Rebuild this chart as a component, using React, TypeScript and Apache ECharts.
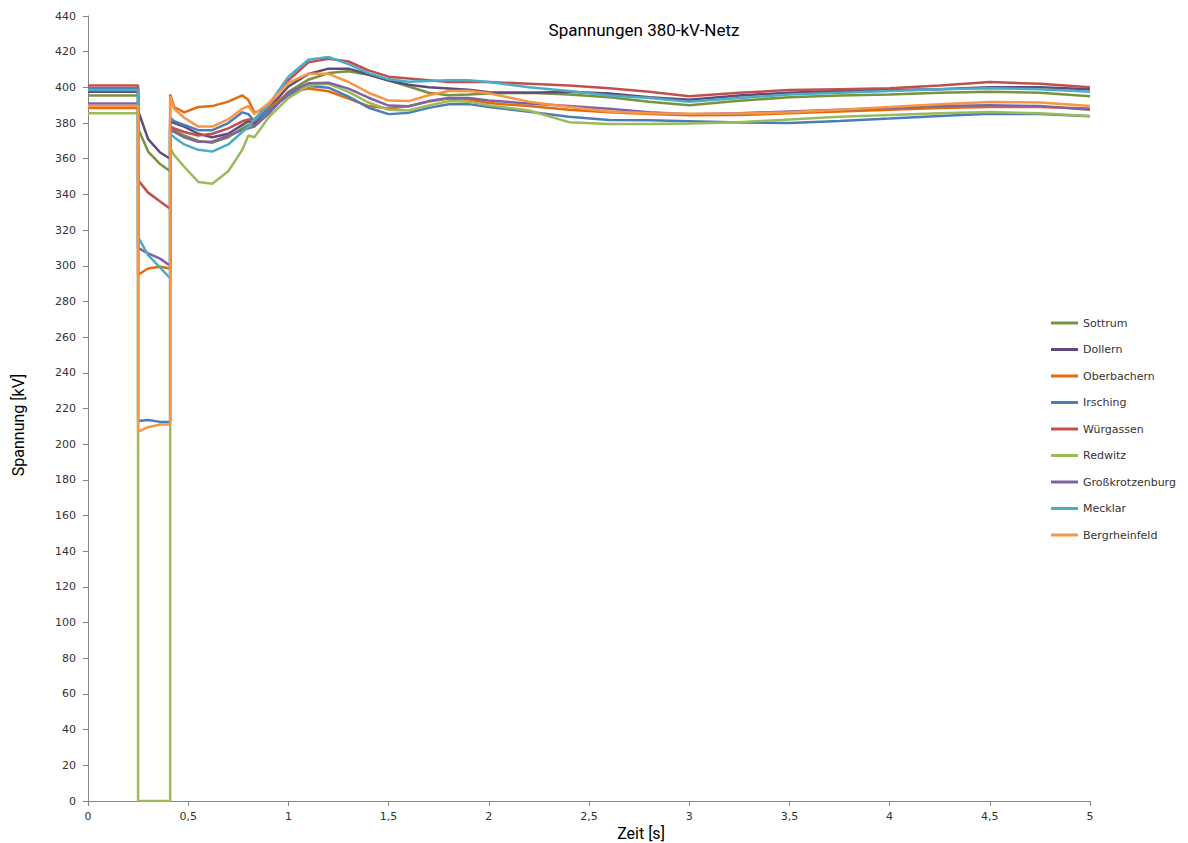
import React, { useEffect, useRef } from "react";
import * as echarts from "echarts";

const times = [0, 0.25, 0.25, 0.3, 0.36, 0.41, 0.41, 0.43, 0.48, 0.55, 0.62, 0.7, 0.77, 0.8, 0.83, 0.9, 1.0, 1.1, 1.2, 1.3, 1.4, 1.5, 1.6, 1.7, 1.8, 1.9, 2.0, 2.2, 2.4, 2.6, 2.8, 3.0, 3.25, 3.5, 3.75, 4.0, 4.25, 4.5, 4.75, 5.0];

const sottrum = [395.5, 395.5, 377, 364, 357, 353, 377, 376, 373, 370, 369, 372, 377, 379, 379, 386, 397.5, 404.3, 408, 409, 407, 404, 400.5, 397, 395.6, 396, 396.6, 397, 396, 394.5, 392, 390, 392.5, 394.5, 395.5, 396, 397, 397.5, 397, 395];
const dollern = [397.5, 397.5, 387, 371, 363.5, 360, 381, 380, 378, 374, 372, 374, 379, 381, 380, 388, 400.5, 407.5, 410.5, 410.5, 407.2, 403.8, 401.5, 400, 399.4, 398.6, 397.2, 397, 397.5, 396.5, 394.5, 393, 395.5, 397, 398, 398.5, 399, 400, 400, 399];
const oberbachern = [388.5, 388.5, 295, 298.5, 299.5, 298.5, 396, 389, 386, 389, 389.5, 392, 395.5, 393, 386, 388, 397, 399.4, 397.8, 393.7, 389.5, 388.2, 389.4, 392, 393.8, 393.2, 391.2, 389.5, 387.5, 386, 385, 384.3, 384.5, 385.5, 386.5, 387.5, 388.5, 389, 389, 388.2];
const irsching = [399.5, 399.5, 213, 213.5, 212.5, 212.5, 383, 381, 379, 376, 376, 380, 386, 385, 381, 387, 395.5, 400.7, 399.8, 394.8, 388.6, 385, 385.7, 388.5, 390.5, 390.6, 389, 386.3, 383.5, 381.7, 381.5, 381, 380.3, 380, 381.2, 382.5, 384, 385.2, 385, 383.8];
const wuergassen = [401, 401, 348, 341, 336, 332, 378, 377, 375, 373, 374, 377, 381, 382, 382, 390, 404, 414, 416, 414.5, 409.5, 406, 405, 404, 403, 403, 403, 402, 401, 399.5, 397.5, 395, 397, 398.5, 399, 399.5, 401, 403, 402, 400];
const redwitz = [385.5, 385.5, 0, 0, 0, 0, 366, 362, 355.5, 347, 346, 353, 365, 373, 372, 383, 394, 401, 402, 397.5, 391.5, 387.4, 387, 389.8, 392.3, 392, 389.9, 387, 380.5, 379.5, 379.5, 379.7, 380.5, 382, 383.5, 384.5, 385.5, 386.2, 385.5, 384];
const grosskrotzenburg = [391, 391, 310, 307, 304, 300, 376, 375, 372, 369.5, 369.5, 373, 376, 377, 378, 385, 397, 402.3, 402.6, 399.3, 394.2, 389.8, 389.4, 392.3, 394.1, 394.1, 392.6, 391, 389.5, 388, 386, 385, 385.5, 386.5, 387.5, 388.5, 389.5, 390, 389.5, 387.5];
const mecklar = [398.5, 398.5, 316, 306, 299, 293, 374, 372, 368, 365, 364, 368, 375, 378, 382, 390, 406, 415.5, 417, 413, 408, 404.5, 403.2, 403.5, 404, 404, 403, 400, 398, 395.5, 394, 392, 394, 396, 397, 398, 399, 399.5, 399, 397.5];
const bergrheinfeld = [389.5, 389.5, 207, 209.5, 211, 211, 395, 388, 383, 378, 378, 382, 388, 389.5, 385, 391, 402.5, 407.7, 407.6, 403, 397, 392.6, 392.3, 395.6, 398, 398.1, 396.7, 392, 389, 386.5, 385.5, 385.2, 385.3, 386, 387.5, 389, 390.5, 391.8, 391.5, 389.6];

const seriesNames = ["Sottrum", "Dollern", "Oberbachern", "Irsching", "Würgassen", "Redwitz", "Großkrotzenburg", "Mecklar", "Bergrheinfeld"];
const seriesValues = [sottrum, dollern, oberbachern, irsching, wuergassen, redwitz, grosskrotzenburg, mecklar, bergrheinfeld];
const seriesColors = ["#77933c", "#604a7b", "#e46c0a", "#4a7ebb", "#c0504d", "#9bbb59", "#8064a2", "#4bacc6", "#f79646"];

const titleText = "Spannungen 380-kV-Netz";
const yAxisTitle = "Spannung [kV]";
const xAxisTitle = "Zeit [s]";

export default function App() {
  const ref = useRef<HTMLDivElement>(null);
  useEffect(() => {
    if (!ref.current) return;
    const chart = echarts.init(ref.current, null, { renderer: "svg" });
    const axisColor = "#868686";
    const labelStyle = { color: "#333", fontFamily: "DejaVu Sans", fontSize: 11 };
    chart.setOption({
      animation: false,
      backgroundColor: "#ffffff",
      grid: { left: 88, right: 98, top: 16, bottom: 42, containLabel: false },
      xAxis: {
        type: "value",
        min: 0,
        max: 5,
        interval: 0.5,
        axisLine: { lineStyle: { color: axisColor } },
        axisTick: { show: true, length: 5, lineStyle: { color: axisColor } },
        splitLine: { show: false },
        axisLabel: { ...labelStyle, margin: 10, formatter: (v: number) => String(v).replace(".", ",") },
      },
      yAxis: {
        type: "value",
        min: 0,
        max: 440,
        interval: 20,
        axisLine: { show: true, lineStyle: { color: axisColor } },
        axisTick: { show: true, length: 5, lineStyle: { color: axisColor } },
        splitLine: { show: false },
        axisLabel: { ...labelStyle, margin: 12 },
      },
      legend: {
        orient: "vertical",
        left: 1051,
        top: 316,
        padding: 0,
        icon: "rect",
        itemWidth: 27,
        itemHeight: 3,
        itemGap: 12.5,
        textStyle: { color: "#333", fontFamily: "DejaVu Sans", fontSize: 11, lineHeight: 14 },
        data: seriesNames,
      },
      graphic: [
        {
          type: "text",
          x: 644,
          y: 30,
          style: { text: titleText, fontFamily: "Roboto", fontSize: 17, fill: "#000", textAlign: "center", textVerticalAlign: "middle" },
        },
        {
          type: "text",
          x: 18,
          y: 425,
          rotation: Math.PI / 2,
          style: { text: yAxisTitle, fontFamily: "Roboto", fontSize: 16, fill: "#000", textAlign: "center", textVerticalAlign: "middle" },
        },
        {
          type: "text",
          x: 641,
          y: 833,
          style: { text: xAxisTitle, fontFamily: "Roboto", fontSize: 16, fill: "#000", textAlign: "center", textVerticalAlign: "middle" },
        },
      ],
      series: seriesNames.map((name, i) => ({
        name,
        type: "line",
        symbol: "none",
        showSymbol: false,
        color: seriesColors[i],
        lineStyle: { width: 2.5, color: seriesColors[i] },
        data: times.map((t, j) => [t, seriesValues[i][j]]),
      })),
    });
    return () => chart.dispose();
  }, []);
  return <div ref={ref} style={{ position: "fixed", left: 0, top: 0, width: 1188, height: 843 }} />;
}
